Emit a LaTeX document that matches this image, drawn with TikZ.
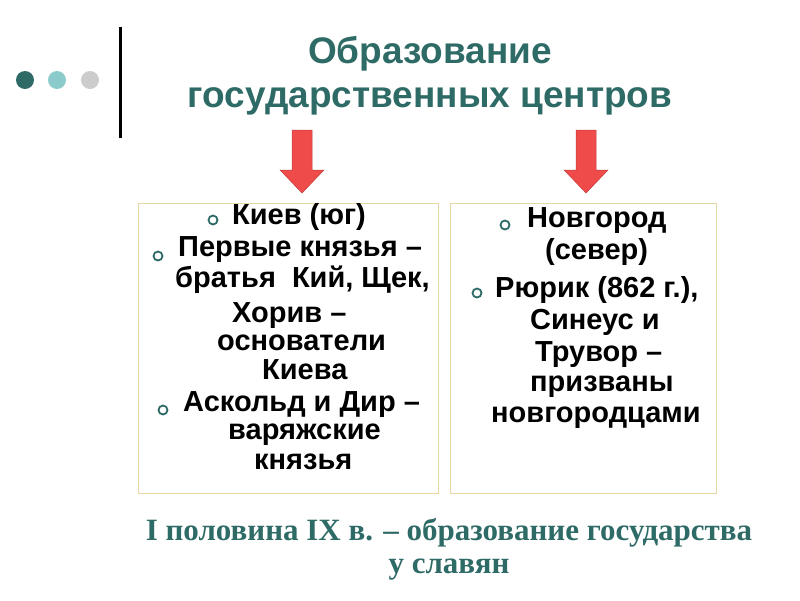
\documentclass[tikz,border=0pt]{standalone}
\usepackage{fontspec}
\setmainfont{Liberation Sans}
\newfontfamily\serifbf{Liberation Serif}
\definecolor{teal1}{HTML}{2F6B66}
\definecolor{teal2}{HTML}{8CCBCB}
\definecolor{grey1}{HTML}{CCCCCC}
\definecolor{arrred}{HTML}{F04B4B}
\definecolor{boxline}{HTML}{E6D8A2}
\tikzset{
  txt/.style={anchor=west,inner sep=0pt,font=\fontsize{29}{32}\selectfont\bfseries},
  blt/.style={circle,draw=teal1,line width=1.8pt,minimum size=9pt,inner sep=0pt},
  bx/.style={draw=boxline,line width=1pt},
  bigarrow/.style={fill=arrred,draw=arrred!80!black,line width=0.5pt}
}
\begin{document}
\begin{tikzpicture}[x=1pt,y=-1pt]
\useasboundingbox (0,0) rectangle (800,600);
\fill[teal1] (25,80) circle (9);
\fill[teal2] (57,80) circle (9);
\fill[grey1] (90,80) circle (9);
\draw[line width=3pt] (120,27) -- (120,138);
\node[teal1,font=\fontsize{37}{44}\selectfont\bfseries,align=center] (title) at (430,76) {Образование\\государственных центров};
\draw[bigarrow] (292,130) -- (312,130) -- (312,170) -- (324,170) -- (302,193) -- (280,170) -- (292,170) -- cycle;
\draw[bigarrow] (576,130) -- (596,130) -- (596,170) -- (608,170) -- (586,193) -- (564,170) -- (576,170) -- cycle;
\draw[bx] (138,203) rectangle (438,493);
\draw[bx] (450,203) rectangle (716,493);
\node[blt] (b1) at (213,220) {};
\node[txt] (l1) at (232,217) {Киев (юг)};
\node[blt] (b2) at (158,256) {};
\node[txt] (l2) at (178,250) {Первые князья –};
\node[txt] (l3) at (175,280) {братья\ \ Кий, Щек,};
\node[txt] (l4) at (232,316) {Хорив –};
\node[txt] (l5) at (217,343) {основатели};
\node[txt] (l6) at (262,370) {Киева};
\node[blt] (b3) at (163,410) {};
\node[txt] (l7) at (183,405) {Аскольд и Дир –};
\node[txt] (l8) at (228,435) {варяжские};
\node[txt] (l9) at (254,462) {князья};
\node[blt] (b4) at (505,225) {};
\node[txt] (r1) at (527,221) {Новгород};
\node[txt] (r2) at (545,252) {(север)};
\node[blt] (b5) at (477,293) {};
\node[txt] (r3) at (495,290) {Рюрик (862 г.),};
\node[txt] (r4) at (530,322) {Синеус и};
\node[txt] (r5) at (535,355) {Трувор –};
\node[txt] (r6) at (530,387) {призваны};
\node[txt] (r7) at (491,418) {новгородцами};
\node[teal1,font=\fontsize{31}{33}\selectfont\serifbf\bfseries,align=center] (bottom) at (449,549) {I половина IX в. – образование государства\\у славян};
\end{tikzpicture}
\end{document}
